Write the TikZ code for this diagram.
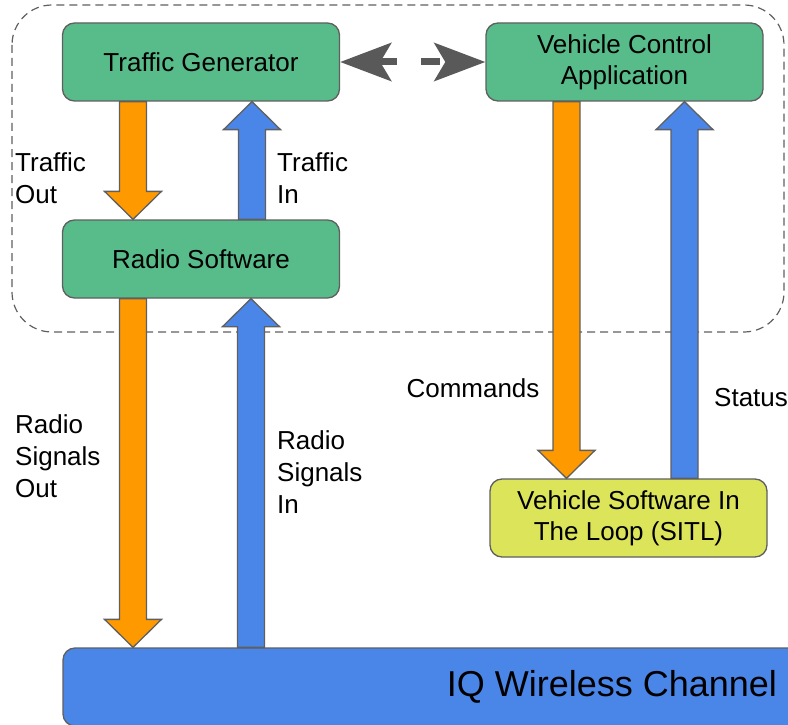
\documentclass[tikz,border=0pt]{standalone}
\usepackage{fontspec}
\setmainfont{Liberation Sans}
\usetikzlibrary{arrows.meta,calc}
\definecolor{boxgreen}{RGB}{87,187,138}
\definecolor{sitlyellow}{RGB}{220,228,90}
\definecolor{sigorange}{RGB}{255,153,0}
\definecolor{sigblue}{RGB}{74,134,232}
\definecolor{edgegray}{RGB}{95,95,95}
\definecolor{linkgray}{RGB}{89,89,89}

% block arrow from #1 to #2 (same column), filled with #3
\newcommand{\flowarrow}[3]{%
  \draw[flow,fill=#3] let \p1=(#1), \p2=(#2),
      \n1={\y2+ifthenelse(\y1>\y2,28,-28)} in
    (\x1-13.5pt,\y1) -- (\x1-13.5pt,\n1) -- (\x1-28.5pt,\n1) -- (\x2,\y2)
    -- (\x1+28.5pt,\n1) -- (\x1+13.5pt,\n1) -- (\x1+13.5pt,\y1) -- cycle;}

\begin{document}
\begin{tikzpicture}[x=1pt,y=-1pt,
          box/.style={draw=edgegray,line width=1.3pt,fill=boxgreen,
                      rounded corners=12pt,minimum width=277pt,
                      minimum height=78pt,align=center,
                      font=\fontsize{26}{31}\selectfont},
          flow/.style={draw=edgegray,line width=1.3pt,line join=miter},
          lbl/.style={inner sep=0pt,align=left,
                      font=\fontsize{26}{32}\selectfont},
          link/.style={linkgray,line width=7pt,dash pattern=on 19pt off 24pt,
                       {Stealth[length=51pt,width=38pt,inset=11pt]}-{Stealth[length=51pt,width=38pt,inset=11pt]}}
        ]
        \useasboundingbox (0,0) rectangle (788,725);
        \clip (0,0) rectangle (788,725);
        % host group
        \draw[edgegray,line width=1.2pt,dash pattern=on 8pt off 5pt,
              rounded corners=40pt] (12,5) rectangle (784,332);
        \node[box] (tg)   at (201,62)    {Traffic Generator};
        \node[box] (rs)   at (201,259)   {Radio Software};
        \node[box] (vca)  at (624.5,62)  {Vehicle Control\\Application};
        \node[box,fill=sitlyellow] (sitl) at (628.5,518)
             {Vehicle Software In\\The Loop (SITL)};
        \node[box,fill=sigblue,minimum width=1098pt,
              font=\fontsize{36}{43}\selectfont] (ch) at (612,687)
             {IQ Wireless Channel};
        \draw[link] (tg.east) -- (vca.west);
        \flowarrow{[xshift=-68pt]tg.south}{[xshift=-68pt]rs.north}{sigorange}
        \flowarrow{[xshift=51pt]rs.north}{[xshift=51pt]tg.south}{sigblue}
        \flowarrow{[xshift=-68pt]rs.south}{[xshift=-68pt]rs.south |- ch.north}{sigorange}
        \flowarrow{[xshift=50pt]rs.south |- ch.north}{[xshift=50pt]rs.south}{sigblue}
        \flowarrow{[xshift=-58pt]vca.south}{[xshift=-58pt]vca.south |- sitl.north}{sigorange}
        \flowarrow{[xshift=60pt]vca.south |- sitl.north}{[xshift=60pt]vca.south}{sigblue}
        \node[lbl,anchor=west] (tout) at (15,178)  {Traffic\\Out};
        \node[lbl,anchor=west] (tin)  at (277,178) {Traffic\\In};
        \node[lbl,anchor=west] (rout) at (15,456)  {Radio\\Signals\\Out};
        \node[lbl,anchor=west] (rin)  at (277,472) {Radio\\Signals\\In};
        \node[lbl] (cmd)  at (473,388) {Commands};
        \node[lbl,anchor=west] (stat) at (714,398) {Status};
      \end{tikzpicture}
\end{document}
